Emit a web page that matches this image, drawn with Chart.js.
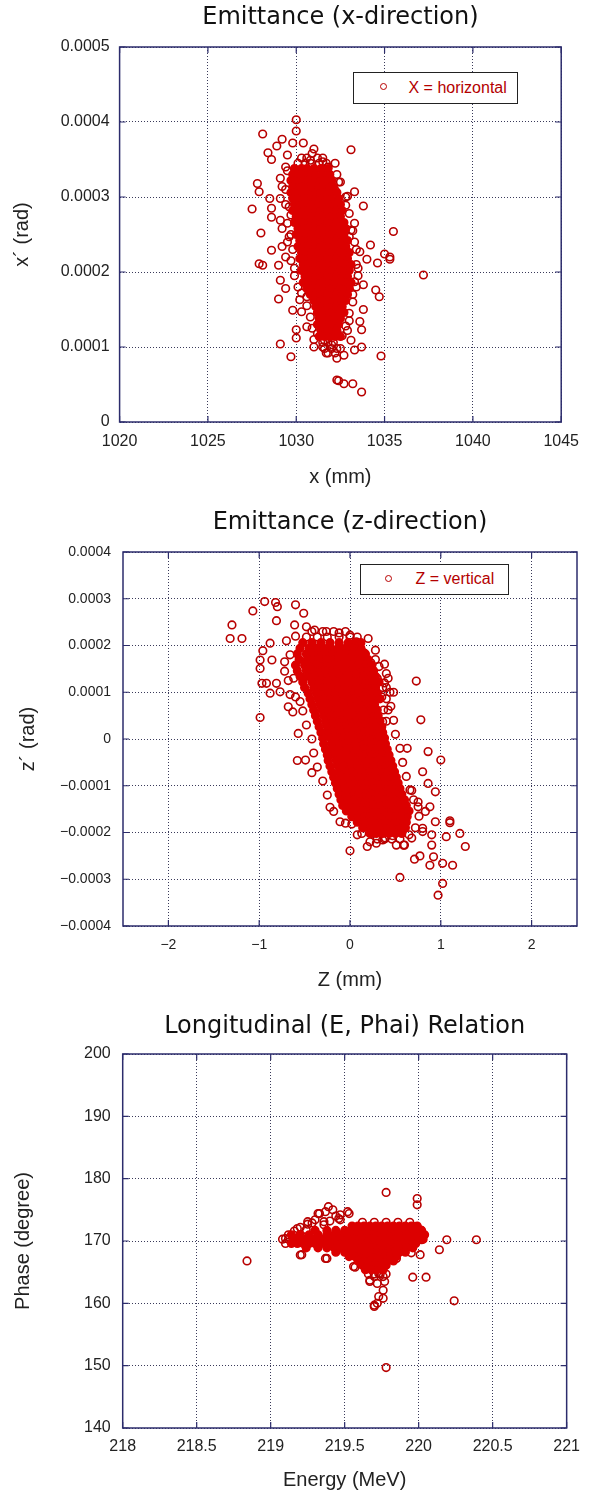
<!DOCTYPE html>
<html>
<head>
<meta charset="utf-8">
<script src="https://cdn.jsdelivr.net/npm/chart.js@4.4.1/dist/chart.umd.min.js"></script>
<style>
html,body{margin:0;padding:0;background:#fff;}
body{width:589px;height:1492px;position:relative;overflow:hidden;}
canvas{position:absolute;left:0;}
.legend{position:absolute;border:1.5px solid #222;background:#fff;box-sizing:border-box;
  font:16px 'Liberation Sans',Arial,sans-serif;color:#b40000;}
.legend .mk{position:absolute;width:5.4px;height:5.4px;border:1.6px solid #b80000;border-radius:50%;}
.legend .tx{position:absolute;white-space:nowrap;line-height:16px;}
</style>
</head>
<body>
<canvas id="c1" width="589" height="497" style="top:0px"></canvas>
<canvas id="c2" width="589" height="505" style="top:497px"></canvas>
<canvas id="c3" width="589" height="490" style="top:1002px"></canvas>
<div class="legend" id="lg1" style="left:353px;top:72px;width:165px;height:32px;">
  <span class="mk" style="left:26px;top:10px"></span><span class="tx" id="lg1t" style="left:54.5px;top:6.5px"></span>
</div>
<div class="legend" id="lg2" style="left:360px;top:564px;width:149px;height:31px;">
  <span class="mk" style="left:24px;top:9.5px"></span><span class="tx" id="lg2t" style="left:54.5px;top:6px"></span>
</div>
<script>
// ---------------- DATA ----------------
// Chart 1 : Emittance (x-direction)   [x (mm), x' (rad)]
const horizTitle = 'Emittance (x-direction)';
const horizLabel = 'X = horizontal';
const horizXTicks = [1020, 1025, 1030, 1035, 1040, 1045];
const horizYTicks = [0, 0.0001, 0.0002, 0.0003, 0.0004, 0.0005];
const horizOuter = [
 [1030.0,4.03e-4],[1030.0,3.88e-4],[1028.1,3.84e-4],[1029.2,3.77e-4],[1028.9,3.68e-4],[1028.4,3.59e-4],
 [1028.6,3.50e-4],[1033.1,3.63e-4],[1029.8,3.72e-4],[1030.4,3.72e-4],[1031.0,3.64e-4],[1030.8,3.49e-4],
 [1031.5,3.47e-4],[1029.5,3.56e-4],[1029.4,3.40e-4],[1027.8,3.18e-4],[1027.9,3.07e-4],[1029.1,3.25e-4],
 [1029.2,3.14e-4],[1033.3,3.07e-4],[1032.9,3.01e-4],[1032.4,3.20e-4],[1032.2,3.09e-4],[1027.5,2.84e-4],
 [1028.5,2.98e-4],[1028.6,2.85e-4],[1028.6,2.73e-4],[1029.1,2.98e-4],[1033.8,2.88e-4],[1032.5,2.83e-4],
 [1032.8,2.89e-4],[1028.0,2.52e-4],[1029.1,2.69e-4],[1029.2,2.58e-4],[1035.5,2.54e-4],[1033.3,2.65e-4],
 [1033.1,2.56e-4],[1033.0,2.47e-4],[1034.2,2.36e-4],[1033.6,2.27e-4],[1028.6,2.29e-4],[1029.2,2.34e-4],
 [1029.4,2.20e-4],[1035.3,2.20e-4],[1029.6,2.87e-4],[1029.7,2.76e-4],[1029.6,2.47e-4],
 [1027.9,2.11e-4],[1028.1,2.09e-4],[1029.0,2.09e-4],[1029.1,1.89e-4],[1029.4,1.78e-4],[1029.0,1.64e-4],
 [1029.8,1.49e-4],[1030.3,1.47e-4],[1030.0,1.23e-4],[1030.0,1.12e-4],[1030.6,1.27e-4],[1029.1,1.04e-4],
 [1029.7,0.87e-4],[1031.0,1.00e-4],[1031.7,0.92e-4],[1032.3,0.85e-4],[1032.7,0.89e-4],[1033.3,0.96e-4],
 [1033.7,1.00e-4],[1034.8,0.88e-4],[1032.3,0.56e-4],[1032.4,0.55e-4],[1032.7,0.51e-4],[1033.2,0.51e-4],
 [1033.7,0.40e-4],[1034.6,2.12e-4],[1035.3,2.17e-4],[1034.0,2.17e-4],[1034.5,1.76e-4],[1034.7,1.67e-4],
 [1033.8,1.50e-4],[1033.6,1.34e-4],[1033.7,1.23e-4],[1032.9,1.22e-4],[1033.1,1.09e-4],[1031.4,1.35e-4],
 [1031.2,1.18e-4],[1031.5,1.00e-4],[1032.0,1.03e-4],[1031.6,1.09e-4],[1030.2,1.63e-4],[1030.6,1.67e-4],
 [1033.8,1.83e-4],[1033.3,1.87e-4],[1033.5,1.95e-4],[1035.0,2.24e-4],[1037.2,1.96e-4],
 [1029.5,2.40e-4],[1029.7,2.15e-4],[1029.9,1.95e-4],[1030.1,1.80e-4],[1033.3,2.40e-4],[1033.4,2.10e-4],
 [1033.2,1.70e-4],[1033.0,1.45e-4],[1030.9,3.58e-4],[1031.8,3.40e-4],[1032.3,3.30e-4],
 [1029.5,3.35e-4],[1029.4,3.10e-4],[1029.4,2.90e-4],[1029.5,2.65e-4],[1029.7,2.50e-4],[1029.8,2.30e-4],
 [1029.9,2.05e-4],[1030.3,1.72e-4],[1030.6,1.55e-4],[1030.8,1.40e-4],[1030.9,1.25e-4],[1031.0,1.10e-4],
 [1032.2,3.45e-4],[1032.5,3.20e-4],[1032.8,3.00e-4],[1033.0,2.78e-4],[1033.2,2.55e-4],[1033.4,2.30e-4],
 [1033.5,2.05e-4],[1033.4,1.80e-4],[1033.2,1.60e-4],[1033.0,1.35e-4],[1032.8,1.28e-4],[1032.6,1.15e-4],
 [1032.5,0.98e-4]
];
const horizFringe = [
 [3.52e-4,[1030.3,1030.6,1031.2,1031.5]],
 [3.45e-4,[1030.1,1030.5,1030.8,1031.3,1031.7]],
 [1.06e-4,[1031.5,1031.8,1032.1]],
 [0.98e-4,[1031.6,1032.0,1032.3]],
 [0.92e-4,[1031.8,1032.2]]
];
const horizCore = [
 [3.38e-4,[1029.9,1030.3,1030.6,1031.0,1031.4,1031.8]],
 [3.30e-4,[1029.8,1030.1,1030.5,1030.8,1031.1,1031.5,1031.9]],
 [3.22e-4,[1029.7,1030.0,1030.4,1030.7,1031.0,1031.3,1031.6,1032.0]],
 [3.14e-4,[1029.8,1030.2,1030.5,1030.8,1031.2,1031.5,1031.8,1032.1]],
 [3.06e-4,[1029.7,1030.0,1030.3,1030.6,1031.0,1031.3,1031.6,1031.9,1032.3]],
 [2.98e-4,[1029.8,1030.1,1030.4,1030.8,1031.1,1031.4,1031.7,1032.0,1032.4]],
 [2.90e-4,[1029.9,1030.2,1030.6,1030.9,1031.2,1031.5,1031.8,1032.2,1032.5]],
 [2.82e-4,[1029.8,1030.1,1030.4,1030.7,1031.0,1031.3,1031.7,1032.0,1032.3,1032.6]],
 [2.74e-4,[1030.0,1030.3,1030.6,1030.9,1031.2,1031.5,1031.8,1032.1,1032.5]],
 [2.66e-4,[1029.9,1030.2,1030.5,1030.8,1031.1,1031.4,1031.7,1032.0,1032.3,1032.7]],
 [2.58e-4,[1030.1,1030.4,1030.7,1031.0,1031.3,1031.6,1031.9,1032.2,1032.5,1032.8]],
 [2.50e-4,[1030.0,1030.3,1030.6,1030.9,1031.2,1031.5,1031.8,1032.1,1032.4,1032.7]],
 [2.42e-4,[1030.2,1030.5,1030.8,1031.1,1031.4,1031.7,1032.0,1032.3,1032.6,1032.9]],
 [2.34e-4,[1030.1,1030.4,1030.7,1031.0,1031.3,1031.6,1031.9,1032.2,1032.5,1032.8]],
 [2.26e-4,[1030.3,1030.6,1030.9,1031.2,1031.5,1031.8,1032.1,1032.4,1032.7,1033.0]],
 [2.18e-4,[1030.2,1030.5,1030.8,1031.1,1031.4,1031.7,1032.0,1032.3,1032.6,1032.9]],
 [2.10e-4,[1030.4,1030.7,1031.0,1031.3,1031.6,1031.9,1032.2,1032.5,1032.8,1033.1]],
 [2.02e-4,[1030.3,1030.6,1030.9,1031.2,1031.5,1031.8,1032.1,1032.4,1032.7,1033.0]],
 [1.94e-4,[1030.5,1030.8,1031.1,1031.4,1031.7,1032.0,1032.3,1032.6,1032.9]],
 [1.86e-4,[1030.4,1030.7,1031.0,1031.3,1031.6,1031.9,1032.2,1032.5,1032.8,1033.1]],
 [1.78e-4,[1030.6,1030.9,1031.2,1031.5,1031.8,1032.1,1032.4,1032.7,1033.0]],
 [1.70e-4,[1030.8,1031.1,1031.4,1031.7,1032.0,1032.3,1032.6,1032.9]],
 [1.62e-4,[1031.0,1031.3,1031.6,1031.9,1032.2,1032.5,1032.8]],
 [1.54e-4,[1031.1,1031.4,1031.7,1032.0,1032.3,1032.6]],
 [1.46e-4,[1031.2,1031.5,1031.8,1032.1,1032.4,1032.7]],
 [1.38e-4,[1031.3,1031.6,1031.9,1032.2,1032.5]],
 [1.30e-4,[1031.2,1031.5,1031.8,1032.1,1032.4]],
 [1.22e-4,[1031.4,1031.7,1032.0,1032.3]],
 [1.14e-4,[1031.3,1031.6,1031.9,1032.2,1032.5]]
];

// Chart 2 : Emittance (z-direction)   [Z (mm), z' (rad)]
const vertTitle = 'Emittance (z-direction)';
const vertLabel = 'Z = vertical';
const vertXTicks = [-2, -1, 0, 1, 2];
const vertYTicks = [-0.0004, -0.0003, -0.0002, -0.0001, 0, 0.0001, 0.0002, 0.0003, 0.0004];
const vertOuter = [
 [-1.30,2.44e-4],[-1.32,2.15e-4],[-1.19,2.15e-4],[-1.07,2.74e-4],[-0.94,2.94e-4],[-0.82,2.92e-4],
 [-0.80,2.83e-4],[-0.81,2.53e-4],[-0.60,2.87e-4],[-0.51,2.69e-4],[-0.99,0.46e-4],[-0.96,1.89e-4],
 [-0.99,1.69e-4],[-0.99,1.51e-4],[-0.88,2.05e-4],[-0.86,1.69e-4],[-0.97,1.19e-4],[-0.92,1.19e-4],
 [-0.81,1.19e-4],[-0.88,0.98e-4],[-0.77,1.01e-4],[-0.68,0.69e-4],[-0.63,0.58e-4],[-0.57,0.12e-4],
 [-0.48,2.40e-4],[-0.61,2.44e-4],[-0.39,2.33e-4],[-0.26,2.30e-4],[-0.12,2.27e-4],[0.00,2.22e-4],
 [0.07,2.08e-4],[0.08,1.94e-4],[0.23,1.63e-4],[0.18,1.48e-4],[0.35,0.90e-4],[0.26,1.01e-4],
 [0.36,0.37e-4],[0.73,1.24e-4],[0.48,1.00e-4],
 [-0.58,-0.46e-4],[-0.49,-0.45e-4],[-0.42,-0.72e-4],[0.78,0.41e-4],[0.86,-0.27e-4],[1.00,-0.45e-4],
 [0.63,-0.20e-4],[0.00,-2.39e-4],[-0.11,-1.77e-4],[-0.22,-1.46e-4],[0.13,-2.02e-4],[0.19,-2.30e-4],
 [0.55,-2.96e-4],[0.97,-3.34e-4],[1.02,-3.09e-4],[1.13,-2.70e-4],[1.02,-2.66e-4],[0.88,-2.70e-4],
 [0.77,-2.50e-4],[0.71,-2.57e-4],[0.92,-2.52e-4],[1.27,-2.30e-4],[1.21,-2.02e-4],[1.06,-2.09e-4],
 [1.10,-1.79e-4],[1.10,-1.75e-4],[0.94,-1.77e-4],[0.90,-2.05e-4],[0.90,-2.27e-4],[0.94,-1.13e-4],
 [0.86,-0.95e-4],[0.80,-0.70e-4],[0.47,-2.07e-4],[0.59,-2.27e-4],[0.51,-2.27e-4],[0.36,-2.16e-4],
 [0.22,-2.20e-4],[0.80,-1.98e-4],[0.65,-2.05e-4],[0.24,-2.02e-4],[0.29,-2.23e-4],[0.39,-2.12e-4],
 [0.60,-2.27e-4],[0.02,-1.82e-4],[0.80,-1.91e-4],[0.83,-1.55e-4],[0.70,-1.30e-4],[0.75,-1.45e-4],
 [0.66,-1.09e-4],[0.88,-1.45e-4],
 [-0.72,1.45e-4],[-0.66,1.80e-4],[-0.70,2.10e-4],[-0.62,1.30e-4],[-0.66,0.95e-4],[-0.55,0.80e-4],
 [0.15,1.85e-4],[0.28,1.70e-4],[0.32,1.55e-4],[0.40,1.40e-4],[0.38,1.20e-4],[0.30,1.30e-4],
 [-0.60,2.20e-4],[-0.72,1.65e-4],[-0.68,1.25e-4],[-0.60,0.90e-4],[-0.52,0.60e-4],[-0.48,0.30e-4],
 [-0.42,0.00e-4],[-0.40,-0.30e-4],[-0.36,-0.60e-4],[-0.30,-0.90e-4],[-0.25,-1.20e-4],[-0.18,-1.55e-4],
 [-0.05,-1.80e-4],[0.08,-2.05e-4],
 [0.20,2.15e-4],[0.28,1.90e-4],[0.38,1.60e-4],[0.42,1.30e-4],[0.44,1.00e-4],[0.45,0.70e-4],
 [0.48,0.40e-4],[0.50,0.10e-4],[0.55,-0.20e-4],[0.58,-0.50e-4],[0.62,-0.80e-4],[0.68,-1.10e-4],
 [0.75,-1.35e-4],[0.76,-1.65e-4],[0.72,-1.90e-4],[0.68,-2.12e-4]
];
const vertFringe = [
 [2.30e-4,[-0.42,-0.30,-0.18,-0.05]],
 [2.18e-4,[-0.48,-0.36,-0.25,-0.12,0.00,0.08]],
 [1.10e-4,[0.36,0.40]],
 [0.86e-4,[0.40]],
 [0.62e-4,[0.37,0.42]],
 [0.38e-4,[0.40]],
 [-2.14e-4,[0.30,0.38,0.46,0.55]]
];
const vertCore = [
 [2.06e-4,[-0.52,-0.42,-0.32,-0.22,-0.12,-0.02,0.06,0.12]],
 [1.94e-4,[-0.55,-0.45,-0.37,-0.29,-0.21,-0.13,-0.05,0.03,0.12]],
 [1.82e-4,[-0.58,-0.48,-0.40,-0.33,-0.26,-0.19,-0.12,-0.05,0.02,0.09,0.17]],
 [1.70e-4,[-0.56,-0.47,-0.40,-0.34,-0.27,-0.21,-0.14,-0.08,-0.01,0.05,0.12,0.20]],
 [1.58e-4,[-0.60,-0.50,-0.43,-0.37,-0.30,-0.24,-0.17,-0.11,-0.04,0.02,0.09,0.16,0.24]],
 [1.46e-4,[-0.58,-0.48,-0.40,-0.33,-0.27,-0.20,-0.14,-0.07,-0.01,0.06,0.12,0.19,0.26]],
 [1.34e-4,[-0.55,-0.46,-0.38,-0.31,-0.24,-0.18,-0.11,-0.05,0.02,0.08,0.15,0.22,0.28]],
 [1.22e-4,[-0.52,-0.42,-0.35,-0.28,-0.21,-0.15,-0.08,-0.02,0.05,0.11,0.18,0.25,0.32]],
 [1.10e-4,[-0.50,-0.40,-0.33,-0.26,-0.19,-0.12,-0.06,0.01,0.07,0.14,0.21,0.28]],
 [0.98e-4,[-0.46,-0.37,-0.30,-0.23,-0.17,-0.10,-0.04,0.03,0.09,0.16,0.23,0.30]],
 [0.86e-4,[-0.44,-0.35,-0.28,-0.21,-0.14,-0.08,-0.01,0.05,0.12,0.19,0.26,0.33]],
 [0.74e-4,[-0.42,-0.33,-0.26,-0.19,-0.13,-0.06,0.00,0.07,0.13,0.20,0.27]],
 [0.62e-4,[-0.40,-0.31,-0.24,-0.17,-0.10,-0.04,0.03,0.09,0.16,0.23,0.30]],
 [0.50e-4,[-0.38,-0.29,-0.22,-0.15,-0.09,-0.02,0.04,0.11,0.17,0.24,0.31]],
 [0.38e-4,[-0.36,-0.27,-0.20,-0.13,-0.07,0.00,0.06,0.12,0.19,0.26,0.33]],
 [0.26e-4,[-0.34,-0.25,-0.18,-0.11,-0.05,0.02,0.08,0.14,0.21,0.28,0.35]],
 [0.14e-4,[-0.32,-0.24,-0.17,-0.10,-0.03,0.03,0.10,0.16,0.22,0.29,0.36]],
 [0.02e-4,[-0.30,-0.22,-0.15,-0.08,-0.02,0.05,0.11,0.18,0.24,0.31,0.38]],
 [-0.10e-4,[-0.29,-0.20,-0.13,-0.06,0.00,0.07,0.13,0.19,0.26,0.32,0.39]],
 [-0.22e-4,[-0.27,-0.19,-0.12,-0.05,0.02,0.08,0.15,0.21,0.27,0.34,0.41]],
 [-0.34e-4,[-0.25,-0.17,-0.10,-0.03,0.04,0.10,0.16,0.23,0.29,0.36,0.43]],
 [-0.46e-4,[-0.24,-0.15,-0.08,-0.01,0.05,0.12,0.18,0.24,0.31,0.38,0.45]],
 [-0.58e-4,[-0.22,-0.13,-0.06,0.01,0.07,0.14,0.20,0.26,0.33,0.40,0.47]],
 [-0.70e-4,[-0.20,-0.12,-0.05,0.02,0.09,0.15,0.22,0.28,0.35,0.42,0.49]],
 [-0.82e-4,[-0.18,-0.10,-0.03,0.04,0.10,0.17,0.23,0.30,0.37,0.44,0.51]],
 [-0.94e-4,[-0.16,-0.08,-0.01,0.06,0.12,0.19,0.25,0.32,0.39,0.46,0.53]],
 [-1.06e-4,[-0.14,-0.06,0.01,0.08,0.14,0.21,0.27,0.34,0.41,0.48,0.55]],
 [-1.18e-4,[-0.12,-0.04,0.03,0.10,0.16,0.23,0.29,0.36,0.43,0.50,0.57]],
 [-1.30e-4,[-0.10,-0.02,0.05,0.12,0.18,0.25,0.31,0.38,0.45,0.52,0.60]],
 [-1.42e-4,[-0.08,0.00,0.07,0.14,0.20,0.27,0.33,0.40,0.47,0.54,0.62]],
 [-1.54e-4,[-0.04,0.04,0.11,0.17,0.24,0.30,0.37,0.44,0.51,0.58,0.65]],
 [-1.66e-4,[0.02,0.09,0.16,0.22,0.29,0.35,0.42,0.49,0.56,0.63]],
 [-1.78e-4,[0.08,0.15,0.22,0.28,0.35,0.41,0.48,0.55,0.62]],
 [-1.90e-4,[0.14,0.21,0.28,0.34,0.41,0.47,0.54,0.61]],
 [-2.02e-4,[0.22,0.29,0.36,0.43,0.50,0.57]]
];

// Chart 3 : Longitudinal (E, Phai) Relation   [Energy (MeV), Phase (degree)]
const longTitle = 'Longitudinal (E, Phai) Relation';
const longLabel = 'E-Phai';
const longXTicks = [218, 218.5, 219, 219.5, 220, 220.5, 221];
const longYTicks = [140, 150, 160, 170, 180, 190, 200];
const longOuter = [
 [218.84,166.8],[219.20,167.75],[219.37,167.2],[219.57,165.8],[219.10,170.4],[219.18,172.0],
 [219.25,172.7],[219.36,173.1],[219.32,174.4],[219.47,174.2],[219.53,174.4],[219.67,163.7],[219.70,159.7],
 [219.78,177.8],[219.99,176.8],[219.99,175.8],[220.19,170.2],[220.39,170.2],[220.14,168.6],[220.01,167.8],
 [219.95,168.1],[219.96,164.2],[220.05,164.2],[220.24,160.4],[219.78,149.7],[219.56,165.9],[219.38,167.2],
 [219.21,167.8],[219.52,174.7],[219.46,173.6],[219.39,175.5],[219.37,174.7],[219.33,174.4],[219.36,172.6],
 [219.30,173.4],[219.25,173.1],[219.24,171.8],[219.47,173.4],
 [219.67,163.5],[219.72,160.0],[219.73,161.1],[219.76,162.1],[219.76,160.8],[219.77,163.5],[219.76,164.3],
 [219.72,163.2],[219.73,164.8],[219.70,164.3],[219.70,159.5],[219.85,167.2],[219.89,168.6],[219.95,169.4],
 [220.01,171.8],[220.02,170.2],[219.98,172.3],
 [219.12,171.0],[219.16,171.6],[219.20,172.2],[219.28,172.9],[219.42,175.0],[219.44,174.0],[219.40,173.2]
];
const longFringe = [
 [173.0,[219.62,219.70,219.78,219.86,219.94]],
 [164.7,[219.66,219.70,219.74,219.78]],
 [170.3,[219.08,219.12]],
 [169.6,[219.10]]
];
const longCore = [
 [172.4,[219.55,219.59,219.63,219.67,219.71,219.75,219.79,219.83,219.87,219.91,219.95,219.99]],
 [171.7,[219.30,219.38,219.44,219.50,219.54,219.58,219.62,219.66,219.70,219.74,219.78,219.82,219.86,219.90,219.94,219.98,220.02]],
 [171.0,[219.14,219.20,219.26,219.32,219.38,219.43,219.48,219.52,219.56,219.60,219.64,219.68,219.72,219.76,219.80,219.84,219.88,219.92,219.96,220.00,220.04]],
 [170.3,[219.16,219.20,219.24,219.28,219.32,219.36,219.40,219.44,219.48,219.52,219.56,219.60,219.64,219.68,219.72,219.76,219.80,219.84,219.88,219.92,219.96,220.00,220.03]],
 [169.6,[219.14,219.18,219.22,219.26,219.30,219.34,219.38,219.42,219.46,219.50,219.54,219.58,219.62,219.66,219.70,219.74,219.78,219.82,219.86,219.90,219.94,219.98]],
 [168.9,[219.24,219.32,219.38,219.43,219.48,219.52,219.56,219.60,219.64,219.68,219.72,219.76,219.80,219.84,219.88,219.92,219.96]],
 [168.2,[219.44,219.50,219.55,219.59,219.63,219.67,219.71,219.75,219.79,219.83,219.87,219.91]],
 [167.5,[219.53,219.57,219.61,219.65,219.69,219.73,219.77,219.81,219.85]],
 [166.8,[219.59,219.63,219.67,219.71,219.75,219.79,219.83]],
 [166.1,[219.62,219.66,219.70,219.74,219.78]],
 [165.4,[219.64,219.68,219.72,219.76]]
];

// ---------------- RENDER ----------------
const RING = '#b80000';
const DENSE = '#dc0000';
function pairs(outer) { return outer.map(p => ({x: p[0], y: p[1]})); }
function rows(core) {
  const pts = [];
  core.forEach(row => row[1].forEach(x => pts.push({x: x, y: row[0]})));
  return pts;
}
function fmt(v) {
  return String(Number(v.toFixed(6))).replace('-', '\u2212');
}
const framePlugin = {
  id: 'frame',
  afterDatasetsDraw(chart) {
    const {ctx, chartArea: a, scales: {x, y}} = chart;
    ctx.save();
    ctx.strokeStyle = '#2c2c6c';
    ctx.lineWidth = 1.2;
    ctx.beginPath();
    x.ticks.forEach(t => {
      const px = x.getPixelForValue(t.value);
      ctx.moveTo(px, a.bottom); ctx.lineTo(px, a.bottom - 6);
      ctx.moveTo(px, a.top); ctx.lineTo(px, a.top + 6);
    });
    y.ticks.forEach(t => {
      const py = y.getPixelForValue(t.value);
      ctx.moveTo(a.left, py); ctx.lineTo(a.left + 6, py);
      ctx.moveTo(a.right, py); ctx.lineTo(a.right - 6, py);
    });
    ctx.stroke();
    ctx.lineWidth = 1.5;
    ctx.strokeRect(a.left, a.top, a.right - a.left, a.bottom - a.top);
    ctx.restore();
  }
};
function makeChart(id, o) {
  const tickFont = {family: "'Liberation Sans', Arial, sans-serif", size: o.tickSize};
  const titleFont = {family: "'Liberation Sans', Arial, sans-serif", size: 20};
  const gridCfg = {color: '#3a3a5a', lineWidth: 1, drawTicks: false};
  const common = {pointStyle: 'circle', pointRadius: 3.8, pointHoverRadius: 3.8, borderWidth: 1.6};
  return new Chart(document.getElementById(id), {
    type: 'scatter',
    data: {datasets: [
      Object.assign({label: o.label + ' (dense)', data: o.dense, borderColor: DENSE, backgroundColor: DENSE}, common),
      Object.assign({label: o.label, data: o.rings, borderColor: RING, backgroundColor: 'rgba(255,255,255,0)'}, common)
    ]},
    options: {
      responsive: false, animation: false, devicePixelRatio: 1, events: [],
      layout: {padding: {left: 0, right: o.padRight, top: 0, bottom: 0}},
      plugins: {
        legend: {display: false}, tooltip: {enabled: false},
        title: {display: true, text: o.title, fullSize: false, color: '#111',
          font: {family: "'DejaVu Sans', sans-serif", size: 24, weight: 'normal'},
          padding: {top: o.tTop, bottom: o.tBottom}}
      },
      scales: {
        x: {
          type: 'linear', min: o.xMin, max: o.xMax,
          afterBuildTicks: s => { s.ticks = o.xTicks.map(v => ({value: v})); },
          afterFit: s => { s.height = o.xH; },
          ticks: {autoSkip: false, maxRotation: 0, padding: o.xTickPad, color: '#222', font: tickFont, callback: v => fmt(v)},
          grid: gridCfg, border: {display: false, dash: [1, 2]},
          title: {display: true, text: o.xTitle, color: '#222', font: titleFont, padding: {top: 0, bottom: o.xtPad}}
        },
        y: {
          type: 'linear', min: o.yMin, max: o.yMax,
          afterBuildTicks: s => { s.ticks = o.yTicks.map(v => ({value: v})); },
          afterFit: s => { s.width = o.yW; },
          ticks: {autoSkip: false, padding: o.yTickPad, color: '#222', font: tickFont, callback: v => fmt(v)},
          grid: gridCfg, border: {display: false, dash: [1, 2]},
          title: {display: true, text: o.yTitle, color: '#222', font: titleFont, padding: {top: o.ytPad, bottom: 0}}
        }
      }
    },
    plugins: [framePlugin]
  });
}

makeChart('c1', {
  title: horizTitle, label: horizLabel, rings: pairs(horizOuter).concat(rows(horizFringe)), dense: rows(horizCore),
  xMin: 1020, xMax: 1045, yMin: 0, yMax: 0.0005, xTicks: horizXTicks, yTicks: horizYTicks,
  xTitle: 'x (mm)', yTitle: 'x\u00b4 (rad)',
  padRight: 17.4, tTop: 3.6, tBottom: 14.6, xH: 75, yW: 119.6,
  tickSize: 16, xTickPad: 10, yTickPad: 10, xtPad: 8, ytPad: 10
});
makeChart('c2', {
  title: vertTitle, label: vertLabel, rings: pairs(vertOuter).concat(rows(vertFringe)), dense: rows(vertCore),
  xMin: -2.5, xMax: 2.5, yMin: -0.0004, yMax: 0.0004, xTicks: vertXTicks, yTicks: vertYTicks,
  xTitle: 'Z (mm)', yTitle: 'z\u00b4 (rad)',
  padRight: 12, tTop: 11.6, tBottom: 14.6, xH: 76, yW: 123,
  tickSize: 14, xTickPad: 11, yTickPad: 12, xtPad: 10, ytPad: 16
});
makeChart('c3', {
  title: longTitle, label: longLabel, rings: pairs(longOuter).concat(rows(longFringe)), dense: rows(longCore),
  xMin: 218, xMax: 221, yMin: 140, yMax: 200, xTicks: longXTicks, yTicks: longYTicks,
  xTitle: 'Energy (MeV)', yTitle: 'Phase (degree)',
  padRight: 16.3, tTop: 10.6, tBottom: 12.6, xH: 64, yW: 122.7,
  tickSize: 16, xTickPad: 9, yTickPad: 12, xtPad: 0, ytPad: 11.5
});

document.getElementById('lg1t').textContent = horizLabel;
document.getElementById('lg2t').textContent = vertLabel;
</script>
</body>
</html>
